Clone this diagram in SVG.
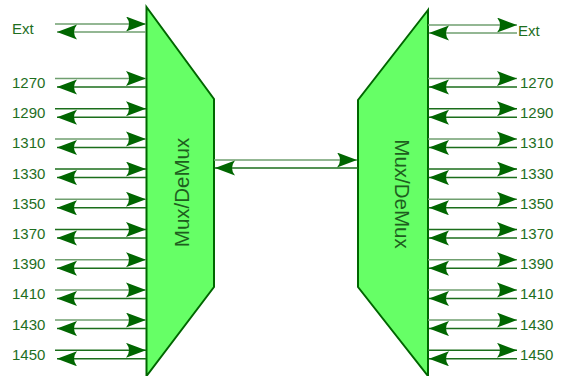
<svg xmlns="http://www.w3.org/2000/svg" width="565" height="376" viewBox="0 0 565 376">
<style>
.mux{fill:#66ff66;stroke:#006600;stroke-width:2}
.ln{stroke:#1b6e1b;stroke-width:1.5;fill:none}
.lt{stroke:#6f9f6f;stroke-width:1.5;fill:none}
.lbl{font-family:"Liberation Sans",Arial,sans-serif;font-size:15px;fill:#1e6e1e}
.mt{font-family:"Liberation Sans",Arial,sans-serif;font-size:20.5px;fill:#1e5e1e}
</style>
<defs>
<marker id="ah" markerUnits="userSpaceOnUse" markerWidth="22" markerHeight="16" refX="20" refY="7.5" orient="auto" viewBox="0 0 22 16">
<path d="M0,0 L20,7.5 L0,15 Q6,7.5 0,0 Z" fill="#006600"/>
</marker>
</defs>
<rect width="565" height="376" fill="#ffffff"/>
<g id="mux-left">
<path class="mux" d="M146.5,7 L214,99 L214,287 L146.5,376 Z"/>
<text class="mt" transform="translate(189,192.5) rotate(-90)" text-anchor="middle">Mux/DeMux</text>
</g>
<g id="mux-right">
<path class="mux" d="M428,10 L358,100 L358,287 L428,376 Z"/>
<text class="mt" transform="translate(395,194) rotate(90)" text-anchor="middle">Mux/DeMux</text>
</g>
<g id="labels-left" class="lbl">
<text x="12" y="34">Ext</text>
<text x="12" y="88">1270</text>
<text x="12" y="118.2">1290</text>
<text x="12" y="148.4">1310</text>
<text x="12" y="178.6">1330</text>
<text x="12" y="208.8">1350</text>
<text x="12" y="239">1370</text>
<text x="12" y="269.2">1390</text>
<text x="12" y="299.4">1410</text>
<text x="12" y="329.6">1430</text>
<text x="12" y="359.8">1450</text>
</g>
<g id="labels-right" class="lbl">
<text x="518" y="36">Ext</text>
<text x="520" y="88">1270</text>
<text x="520" y="118.2">1290</text>
<text x="520" y="148.4">1310</text>
<text x="520" y="178.6">1330</text>
<text x="520" y="208.8">1350</text>
<text x="520" y="239">1370</text>
<text x="520" y="269.2">1390</text>
<text x="520" y="299.4">1410</text>
<text x="520" y="329.6">1430</text>
<text x="520" y="359.8">1450</text>
</g>
<g id="connectors" marker-end="url(#ah)">
<line class="lt" x1="55" y1="24" x2="146" y2="24"/>
<line class="lt" x1="146" y1="32" x2="57" y2="32"/>
<line class="lt" x1="55" y1="78.5" x2="146" y2="78.5"/>
<line class="ln" x1="146" y1="87" x2="57" y2="87"/>
<line class="ln" x1="55" y1="108.7" x2="146" y2="108.7"/>
<line class="ln" x1="146" y1="117.2" x2="57" y2="117.2"/>
<line class="lt" x1="55" y1="138.9" x2="146" y2="138.9"/>
<line class="ln" x1="146" y1="147.4" x2="57" y2="147.4"/>
<line class="ln" x1="55" y1="169.1" x2="146" y2="169.1"/>
<line class="ln" x1="146" y1="177.6" x2="57" y2="177.6"/>
<line class="lt" x1="55" y1="199.3" x2="146" y2="199.3"/>
<line class="ln" x1="146" y1="207.8" x2="57" y2="207.8"/>
<line class="ln" x1="55" y1="229.5" x2="146" y2="229.5"/>
<line class="ln" x1="146" y1="238" x2="57" y2="238"/>
<line class="lt" x1="55" y1="259.7" x2="146" y2="259.7"/>
<line class="ln" x1="146" y1="268.2" x2="57" y2="268.2"/>
<line class="lt" x1="55" y1="289.9" x2="146" y2="289.9"/>
<line class="ln" x1="146" y1="298.4" x2="57" y2="298.4"/>
<line class="lt" x1="55" y1="320.1" x2="146" y2="320.1"/>
<line class="ln" x1="146" y1="328.6" x2="57" y2="328.6"/>
<line class="ln" x1="55" y1="350.3" x2="146" y2="350.3"/>
<line class="ln" x1="146" y1="358.8" x2="57" y2="358.8"/>
<line class="lt" x1="428" y1="25" x2="517" y2="25"/>
<line class="lt" x1="517" y1="33" x2="429" y2="33"/>
<line class="lt" x1="428" y1="78.5" x2="517" y2="78.5"/>
<line class="ln" x1="517" y1="87" x2="429" y2="87"/>
<line class="ln" x1="428" y1="108.7" x2="517" y2="108.7"/>
<line class="ln" x1="517" y1="117.2" x2="429" y2="117.2"/>
<line class="lt" x1="428" y1="138.9" x2="517" y2="138.9"/>
<line class="ln" x1="517" y1="147.4" x2="429" y2="147.4"/>
<line class="ln" x1="428" y1="169.1" x2="517" y2="169.1"/>
<line class="ln" x1="517" y1="177.6" x2="429" y2="177.6"/>
<line class="lt" x1="428" y1="199.3" x2="517" y2="199.3"/>
<line class="ln" x1="517" y1="207.8" x2="429" y2="207.8"/>
<line class="ln" x1="428" y1="229.5" x2="517" y2="229.5"/>
<line class="ln" x1="517" y1="238" x2="429" y2="238"/>
<line class="lt" x1="428" y1="259.7" x2="517" y2="259.7"/>
<line class="ln" x1="517" y1="268.2" x2="429" y2="268.2"/>
<line class="lt" x1="428" y1="289.9" x2="517" y2="289.9"/>
<line class="ln" x1="517" y1="298.4" x2="429" y2="298.4"/>
<line class="lt" x1="428" y1="320.1" x2="517" y2="320.1"/>
<line class="ln" x1="517" y1="328.6" x2="429" y2="328.6"/>
<line class="ln" x1="428" y1="350.3" x2="517" y2="350.3"/>
<line class="ln" x1="517" y1="358.8" x2="429" y2="358.8"/>
<line class="lt" x1="214" y1="160" x2="357" y2="160"/>
<line class="ln" x1="358" y1="168" x2="215" y2="168"/>
</g>
</svg>
